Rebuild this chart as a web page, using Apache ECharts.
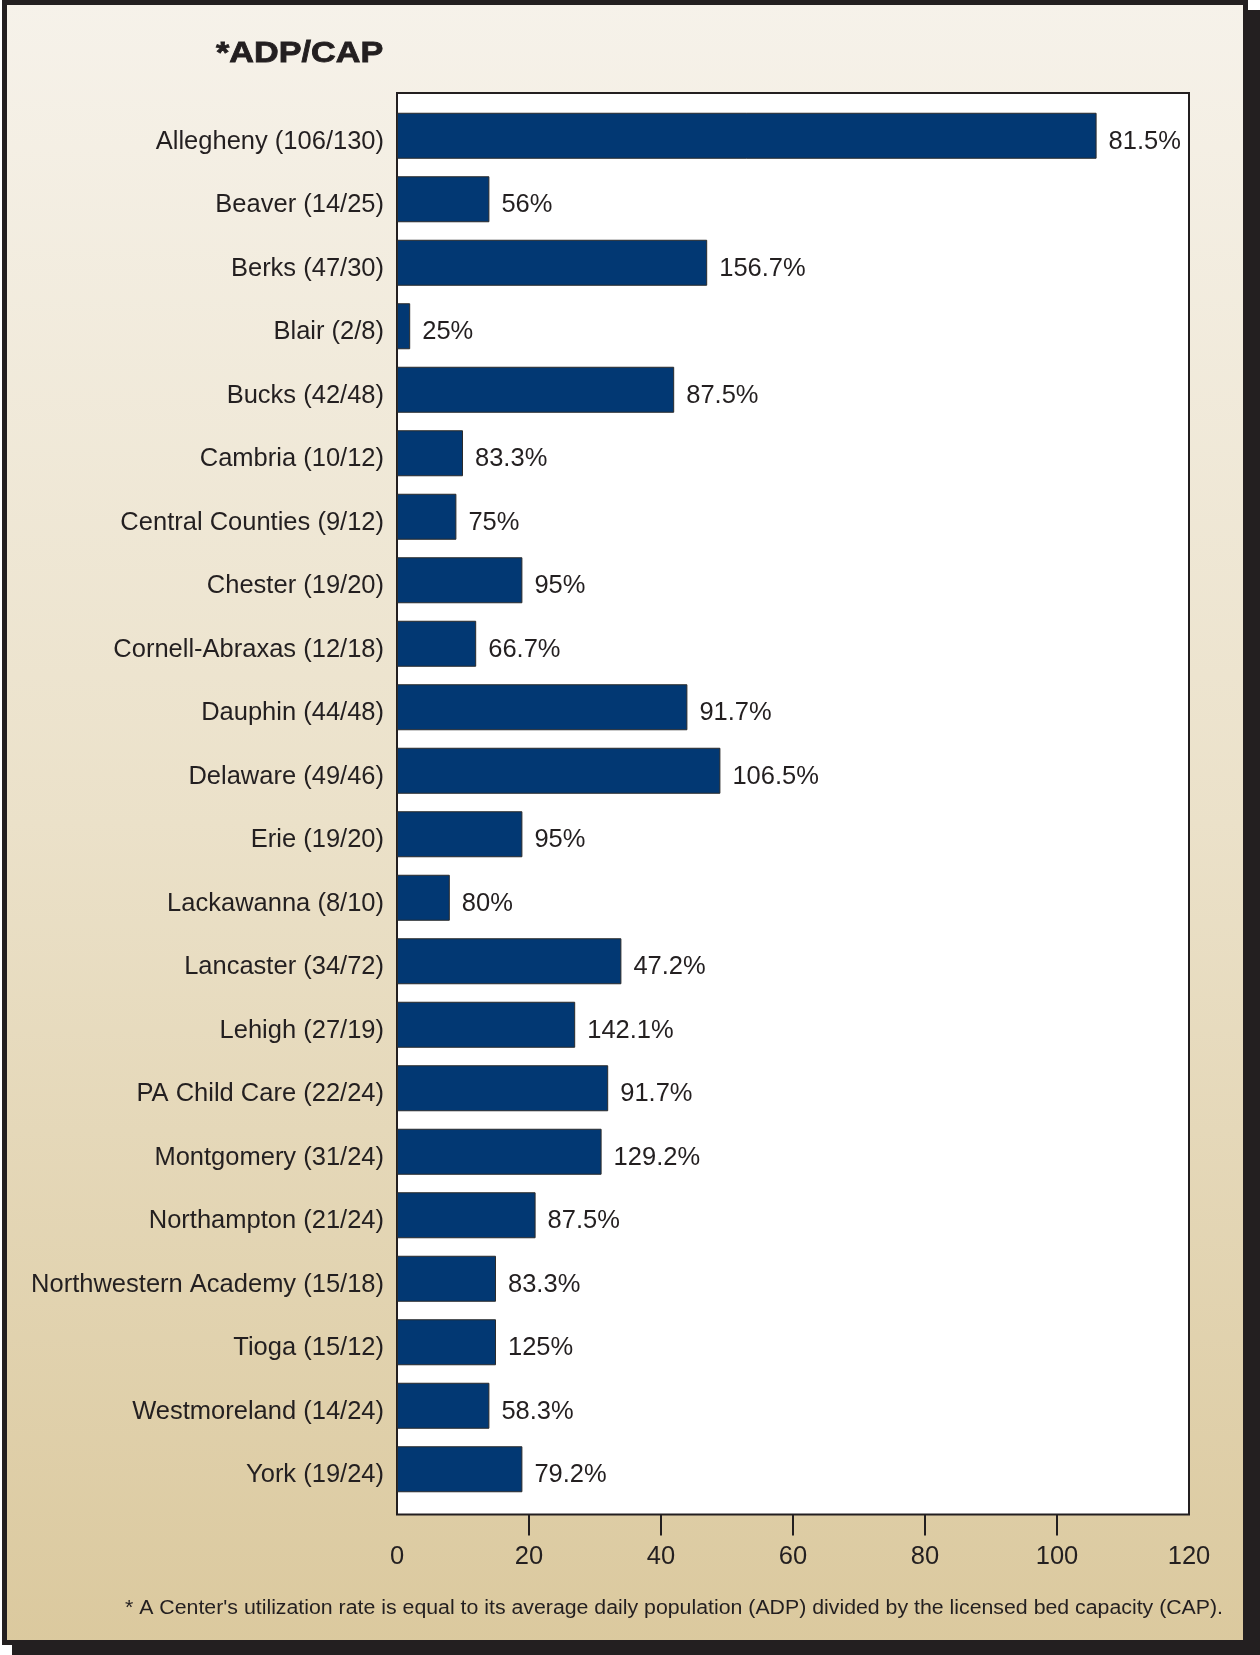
<!DOCTYPE html>
<html>
<head>
<meta charset="utf-8">
<script src="https://cdn.jsdelivr.net/npm/echarts@6/dist/echarts.min.js"></script>
<style>
html,body{margin:0;padding:0;background:#fff;}
#chart{width:1260px;height:1655px;}
</style>
</head>
<body>
<div id="chart"></div>
<script>
var categories = ['Allegheny (106/130)', 'Beaver (14/25)', 'Berks (47/30)', 'Blair (2/8)', 'Bucks (42/48)', 'Cambria (10/12)', 'Central Counties (9/12)', 'Chester (19/20)', 'Cornell-Abraxas (12/18)', 'Dauphin (44/48)', 'Delaware (49/46)', 'Erie (19/20)', 'Lackawanna (8/10)', 'Lancaster (34/72)', 'Lehigh (27/19)', 'PA Child Care (22/24)', 'Montgomery (31/24)', 'Northampton (21/24)', 'Northwestern Academy (15/18)', 'Tioga (15/12)', 'Westmoreland (14/24)', 'York (19/24)'];
var adpValues = [106, 14, 47, 2, 42, 10, 9, 19, 12, 44, 49, 19, 8, 34, 27, 32, 31, 21, 15, 15, 14, 19];
var rateLabels = ['81.5%', '56%', '156.7%', '25%', '87.5%', '83.3%', '75%', '95%', '66.7%', '91.7%', '106.5%', '95%', '80%', '47.2%', '142.1%', '91.7%', '129.2%', '87.5%', '83.3%', '125%', '58.3%', '79.2%'];
var xTicks = [0, 20, 40, 60, 80, 100, 120];
var xInnerTicks = [20, 40, 60, 80, 100];
var titleText = '*ADP/CAP';
var footnote = "* A Center's utilization rate is equal to its average daily population (ADP) divided by the licensed bed capacity (CAP).";

var FONT = "'Liberation Sans', Arial, Helvetica, sans-serif";
var INK = '#231f20';

var chart = echarts.init(document.getElementById('chart'), null, {renderer: 'canvas'});
var option = {
  animation: false,
  backgroundColor: '#ffffff',
  graphic: {
    elements: [
      {type: 'rect', z: -100, shape: {x: 12, y: 10, width: 1248, height: 1645}, style: {fill: INK}},
      {type: 'rect', z: -99, shape: {x: 4.5, y: 2.5, width: 1241, height: 1640},
        style: {
          fill: new echarts.graphic.LinearGradient(0, 0, 0, 1, [
            {offset: 0, color: '#f6f2ea'},
            {offset: 0.5, color: '#ebe1c9'},
            {offset: 1, color: '#dbc99e'}
          ]),
          stroke: INK, lineWidth: 5
        }
      },
      {type: 'text', z: 100, x: 216, y: 54, scaleX: 1.14, scaleY: 1,
        style: {text: titleText, x: 0, y: 0, fill: INK, font: 'bold 30px ' + FONT, align: 'left', verticalAlign: 'middle', stroke: INK, lineWidth: 0.8}},
      {type: 'text', z: 100, x: 125, y: 1608, scaleX: 1.065, scaleY: 1,
        style: {text: footnote, x: 0, y: 0, fill: INK, font: '20px ' + FONT, align: 'left', verticalAlign: 'middle'}}
    ]
  },
  grid: [
    {left: 397, top: 93, width: 792, height: 1421.5, show: true, backgroundColor: '#ffffff', borderColor: INK, borderWidth: 2, containLabel: false},
    {left: 397, top: 104, width: 792, height: 1397, containLabel: false}
  ],
  xAxis: [
    {gridIndex: 0, type: 'value', min: 0, max: 120, interval: 20,
      axisLine: {show: false},
      splitLine: {show: false},
      axisTick: {show: true, length: 21, customValues: xInnerTicks, lineStyle: {color: INK, width: 2}},
      axisLabel: {show: true, margin: 29, fontSize: 25.5, fontFamily: FONT, color: INK, customValues: xTicks}
    },
    {gridIndex: 1, type: 'value', min: 0, max: 120, show: false}
  ],
  yAxis: [
    {gridIndex: 0, type: 'value', show: false},
    {gridIndex: 1, type: 'category', data: categories, inverse: true,
      axisLine: {show: false}, axisTick: {show: false}, splitLine: {show: false},
      axisLabel: {margin: 13, fontSize: 25.5, fontFamily: FONT, color: INK, verticalAlign: 'top', lineHeight: 12}
    }
  ],
  series: [
    {type: 'bar', xAxisIndex: 1, yAxisIndex: 1, data: adpValues, barWidth: 46,
      itemStyle: {color: '#023873', borderColor: '#2b2b2b', borderWidth: 1},
      label: {show: true, position: 'right', distance: 12, offset: [0, 6],
        formatter: function (p) { return rateLabels[p.dataIndex]; },
        fontSize: 25.5, fontFamily: FONT, color: INK}
    }
  ]
};
chart.setOption(option);
</script>
</body>
</html>
